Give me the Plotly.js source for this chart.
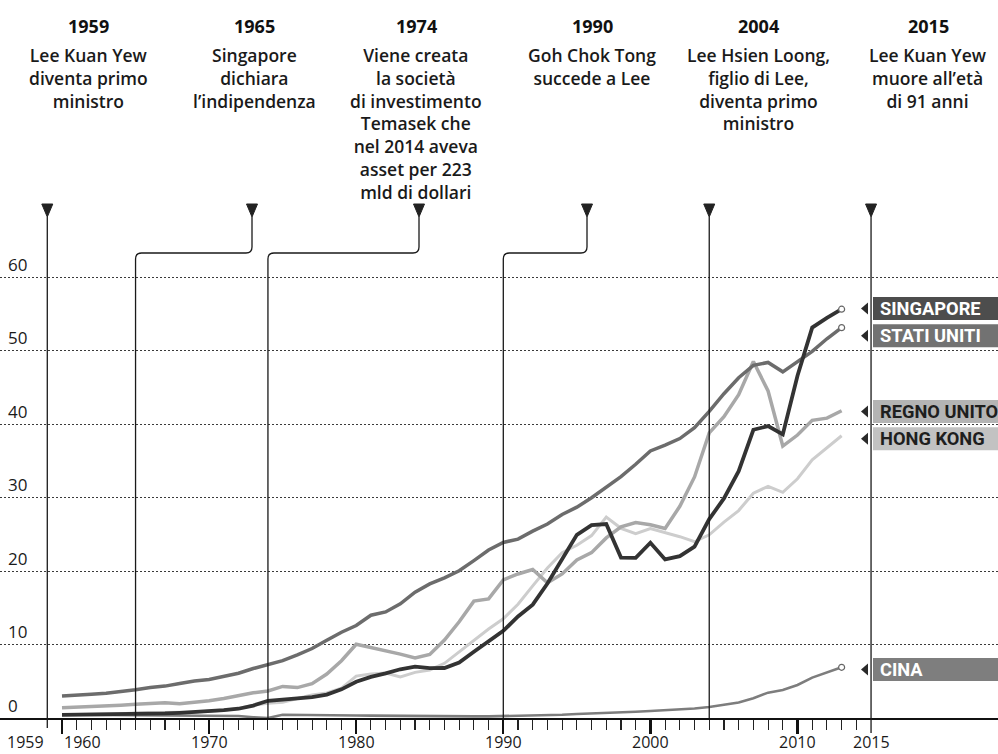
<!DOCTYPE html>
<html><head><meta charset="utf-8">
<script src="https://cdn.plot.ly/plotly-3.0.1.min.js"></script>
<style>html,body{margin:0;padding:0;background:#fff}#chart{width:998px;height:754px}</style>
</head><body><div id="chart"></div>
<script>
// ---------- DATA (thousands of US$) ----------
const years = [1960,1961,1962,1963,1964,1965,1966,1967,1968,1969,
               1970,1971,1972,1973,1974,1975,1976,1977,1978,1979,
               1980,1981,1982,1983,1984,1985,1986,1987,1988,1989,
               1990,1991,1992,1993,1994,1995,1996,1997,1998,1999,
               2000,2001,2002,2003,2004,2005,2006,2007,2008,2009,
               2010,2011,2012,2013];
const singapore = [0.43,0.45,0.47,0.51,0.49,0.52,0.57,0.62,0.71,0.81,
                   0.93,1.07,1.26,1.69,2.34,2.49,2.75,2.85,3.19,3.90,
                   4.93,5.60,6.08,6.63,7.00,6.79,6.80,7.54,9.02,10.39,
                   11.86,13.82,15.42,18.29,21.55,24.92,26.23,26.38,21.83,21.80,
                   23.85,21.58,22.02,23.32,27.06,29.87,33.58,39.22,39.72,38.58,
                   46.57,53.12,54.43,55.62];
const statiUniti = [3.01,3.07,3.24,3.38,3.57,3.83,4.15,4.34,4.70,5.03,
                    5.23,5.61,6.09,6.73,7.23,7.80,8.59,9.45,10.57,11.67,
                    12.58,13.98,14.43,15.54,17.12,18.24,19.07,20.04,21.42,22.86,
                    23.89,24.34,25.42,26.39,27.69,28.69,29.97,31.46,32.85,34.52,
                    36.34,37.13,38.02,39.50,41.71,44.12,46.30,47.98,48.38,47.10,
                    48.47,49.88,51.60,53.11];
const regnoUnito = [1.40,1.47,1.53,1.61,1.75,1.87,1.98,2.06,1.95,2.10,
                    2.35,2.65,3.03,3.43,3.67,4.30,4.14,4.68,5.98,7.80,
                    10.03,9.60,9.15,8.69,8.18,8.65,10.60,13.10,15.90,16.20,
                    18.80,19.60,20.20,18.40,19.60,21.50,22.50,24.50,26.00,26.60,
                    26.30,25.80,28.80,32.80,38.80,41.00,44.00,48.50,44.50,37.00,
                    38.50,40.50,40.80,41.80];
const hongKong = [0.43,0.45,0.48,0.54,0.59,0.67,0.69,0.71,0.71,0.81,
                  0.93,1.05,1.31,1.75,2.00,2.14,2.66,3.14,3.42,4.06,
                  5.70,5.99,6.13,5.60,6.21,6.54,7.44,8.97,10.61,12.10,
                  13.49,15.47,17.98,20.40,22.50,23.50,24.82,27.33,25.81,25.09,
                  25.76,25.23,24.67,23.98,24.93,26.65,28.22,30.59,31.52,30.70,
                  32.55,35.14,36.73,38.40];
const cina = [0.45,0.43,0.42,0.42,0.41,0.40,0.40,0.38,0.36,0.35,
              0.33,0.32,0.28,0.10,0.00,0.45,0.45,0.45,0.42,0.40,
              0.35,0.33,0.30,0.28,0.26,0.26,0.25,0.22,0.22,0.22,
              0.25,0.30,0.35,0.38,0.45,0.55,0.65,0.75,0.80,0.85,
              0.95,1.05,1.15,1.30,1.50,1.75,2.10,2.70,3.45,3.80,
              4.50,5.50,6.20,6.90];

const seriesNames = ['SINGAPORE','STATI UNITI','REGNO UNITO','HONG KONG','CINA'];
const yTickVals = [0,10,20,30,40,50,60];
const xTickLabels = [1959,1960,1970,1980,1990,2000,2010,2015];
const majorTicks = [1960,1970,1980,1990,2000,2010];
const minorTicks = [1961,1962,1963,1964,1965,1966,1967,1968,1969,1971,1972,1973,1974,1975,1976,1977,1978,1979,
                    1981,1982,1983,1984,1985,1986,1987,1988,1989,1991,1992,1993,1994,1995,1996,1997,1998,1999,
                    2001,2002,2003,2004,2005,2006,2007,2008,2009,2011,2012,2013,2014];
const eventYears = [1959,1965,1974,1990,2004,2015];
const eventTexts = [
  'Lee Kuan Yew<br>diventa primo<br>ministro',
  'Singapore<br>dichiara<br>l’indipendenza',
  'Viene creata<br>la società<br>di investimento<br>Temasek che<br>nel 2014 aveva<br>asset per 223<br>mld di dollari',
  'Goh Chok Tong<br>succede a Lee',
  'Lee Hsien Loong,<br>figlio di Lee,<br>diventa primo<br>ministro',
  'Lee Kuan Yew<br>muore all’età<br>di 91 anni'
];

// ---------- LAYOUT CONSTANTS (pixels) ----------
const W = 998, H = 754, PLOT_BOTTOM = 722;
const xRange = [1955.785, 2023.63];
const yRange = [-0.544, 97.69];
const pxPerYear = W / (xRange[1] - xRange[0]);
const P = py => (PLOT_BOTTOM - py) / PLOT_BOTTOM;          // pixel y -> paper y
const PX = px => px / W;                                   // pixel x -> paper x
const pxToYear = px => xRange[0] + px / pxPerYear;

const eventTextCenterPx = [88, 255, 416, 592, 758, 928];
const eventTriPx = [null, 252, 419, 587, null, null];      // bent connectors
const eventLineBottomPx = [728, 718, 718, 718, 718, 733];
const labelVals = [55.7, 52.0, 41.7, 38.0, 6.6];
const boxFill = ['#4d4d4d', '#727272', '#b4b4b4', '#c2c2c2', '#7e7e7e'];
const boxText = ['#ffffff', '#ffffff', '#1e1e1e', '#1e1e1e', '#ffffff'];
const lineColor = ['#333333', '#6c6c6c', '#a8a8a8', '#cdcdcd', '#7d7d7d'];
const lineWidth = [3.8, 3.5, 3.5, 3.0, 2.6];

const seriesData = [singapore, statiUniti, regnoUnito, hongKong, cina];

// ---------- TRACES ----------
const drawOrder = [3, 2, 4, 1, 0];
const traces = drawOrder.map(i => ({
  type: 'scatter', mode: 'lines', x: years, y: seriesData[i], name: seriesNames[i],
  line: {color: lineColor[i], width: lineWidth[i]}, hoverinfo: 'skip', showlegend: false
}));
const endIdx = [0, 1, 4];
traces.push({
  type: 'scatter', mode: 'markers', showlegend: false, hoverinfo: 'skip',
  x: endIdx.map(() => years[years.length - 1]),
  y: endIdx.map(i => seriesData[i][seriesData[i].length - 1]),
  marker: {size: 6, color: '#ffffff', line: {color: '#666', width: 1.2}}
});

// ---------- SHAPES ----------
const shapes = [];
const rx = 6 / pxPerYear, ry = 6 / PLOT_BOTTOM;
const triTop = 204, triBot = 217, triHalf = 5.5 / pxPerYear;
const bendY = 253;
eventYears.forEach((yr, k) => {
  const tx = eventTriPx[k] === null ? yr : pxToYear(eventTriPx[k]);
  let path;
  if (eventTriPx[k] === null) {
    path = `M ${yr} ${P(triBot)} L ${yr} ${P(eventLineBottomPx[k])}`;
  } else {
    path = `M ${tx} ${P(triBot)} L ${tx} ${P(bendY) + ry} Q ${tx} ${P(bendY)} ${tx - rx} ${P(bendY)} ` +
           `L ${yr + rx} ${P(bendY)} Q ${yr} ${P(bendY)} ${yr} ${P(bendY) - ry} L ${yr} ${P(eventLineBottomPx[k])}`;
  }
  shapes.push({type: 'path', xref: 'x', yref: 'paper', path, line: {color: '#1a1a1a', width: 1.3}, layer: 'above'});
  shapes.push({type: 'path', xref: 'x', yref: 'paper',
    path: `M ${tx - triHalf} ${P(triTop)} L ${tx + triHalf} ${P(triTop)} L ${tx} ${P(triBot)} Z`,
    fillcolor: '#222', line: {color: '#222', width: 1}, layer: 'above'});
});
const boxHalf = 11.5 / 7.35;
seriesNames.forEach((n, i) => {
  const v = labelVals[i];
  shapes.push({type: 'rect', xref: 'paper', yref: 'y', x0: PX(873), x1: 1.01, y0: v - boxHalf, y1: v + boxHalf,
    fillcolor: boxFill[i], line: {width: 0}, layer: 'above'});
  shapes.push({type: 'path', xref: 'paper', yref: 'y',
    path: `M ${PX(861)} ${v} L ${PX(868)} ${v + 6 / 7.35} L ${PX(868)} ${v - 6 / 7.35} Z`,
    fillcolor: '#2a2a2a', line: {width: 0}, layer: 'above'});
});

// ---------- ANNOTATIONS ----------
const annotations = [];
const descFont = {family: 'Open Sans, sans-serif', size: 17.5, color: '#1a1a1a', weight: 600};
const lineH = 1.3 * descFont.size;
eventYears.forEach((yr, k) => {
  annotations.push({xref: 'paper', yref: 'paper', x: PX(eventTextCenterPx[k]), y: P(26),
    xanchor: 'center', yanchor: 'middle', showarrow: false, text: '<b>' + yr + '</b>',
    font: {family: 'Open Sans, sans-serif', size: 18, color: '#111'}});
  const n = eventTexts[k].split('<br>').length;
  annotations.push({xref: 'paper', yref: 'paper', x: PX(eventTextCenterPx[k]), y: P(55 + (n - 1) * lineH / 2),
    xanchor: 'center', yanchor: 'middle', align: 'center', showarrow: false, text: eventTexts[k], font: descFont});
});
yTickVals.forEach(v => {
  annotations.push({xref: 'paper', yref: 'y', x: PX(6), y: v, yshift: 13, xanchor: 'left', yanchor: 'middle',
    showarrow: false, text: String(v), font: {family: 'Open Sans, sans-serif', size: 17, color: '#1a1a1a'}});
});
xTickLabels.forEach(yr => {
  const anchor = yr === 1959 ? 'right' : (yr === 1960 ? 'left' : 'center');
  annotations.push({xref: 'x', yref: 'paper', x: yr, y: P(742), xanchor: anchor, yanchor: 'middle',
    xshift: yr === 1959 ? -1 : 0, showarrow: false, text: String(yr),
    font: {family: 'Open Sans, sans-serif', size: 16, color: '#1a1a1a'}});
});
seriesNames.forEach((n, i) => {
  annotations.push({xref: 'paper', yref: 'y', x: PX(878), y: labelVals[i], xanchor: 'left', yanchor: 'middle',
    showarrow: false, text: '<b>' + n + '</b>',
    font: {family: 'Roboto, sans-serif', size: 18.3, color: boxText[i]}});
});

const layout = {
  width: W, height: H, margin: {l: 0, r: 0, t: 0, b: H - PLOT_BOTTOM, pad: 0},
  paper_bgcolor: '#ffffff', plot_bgcolor: '#ffffff', showlegend: false,
  font: {family: 'Open Sans, sans-serif', color: '#1a1a1a'},
  xaxis: {range: xRange, anchor: 'free', position: P(718), showline: true, linecolor: '#111', linewidth: 1.5,
    showgrid: false, zeroline: false, ticks: 'outside', tickmode: 'array', tickvals: majorTicks,
    ticklen: 14, tickwidth: 2.2, tickcolor: '#111', showticklabels: false,
    minor: {tickmode: 'array', tickvals: minorTicks, ticks: 'outside', ticklen: 10, tickwidth: 1.1, tickcolor: '#222', showgrid: false}},
  yaxis: {range: yRange, showgrid: true, gridcolor: '#3a3a3a', gridwidth: 1, griddash: '2px,2px',
    tickmode: 'array', tickvals: [10, 20, 30, 40, 50, 60], showticklabels: false, zeroline: false, showline: false, ticks: ''},
  shapes, annotations
};
Plotly.newPlot('chart', traces, layout, {staticPlot: true, displayModeBar: false});
</script></body></html>
